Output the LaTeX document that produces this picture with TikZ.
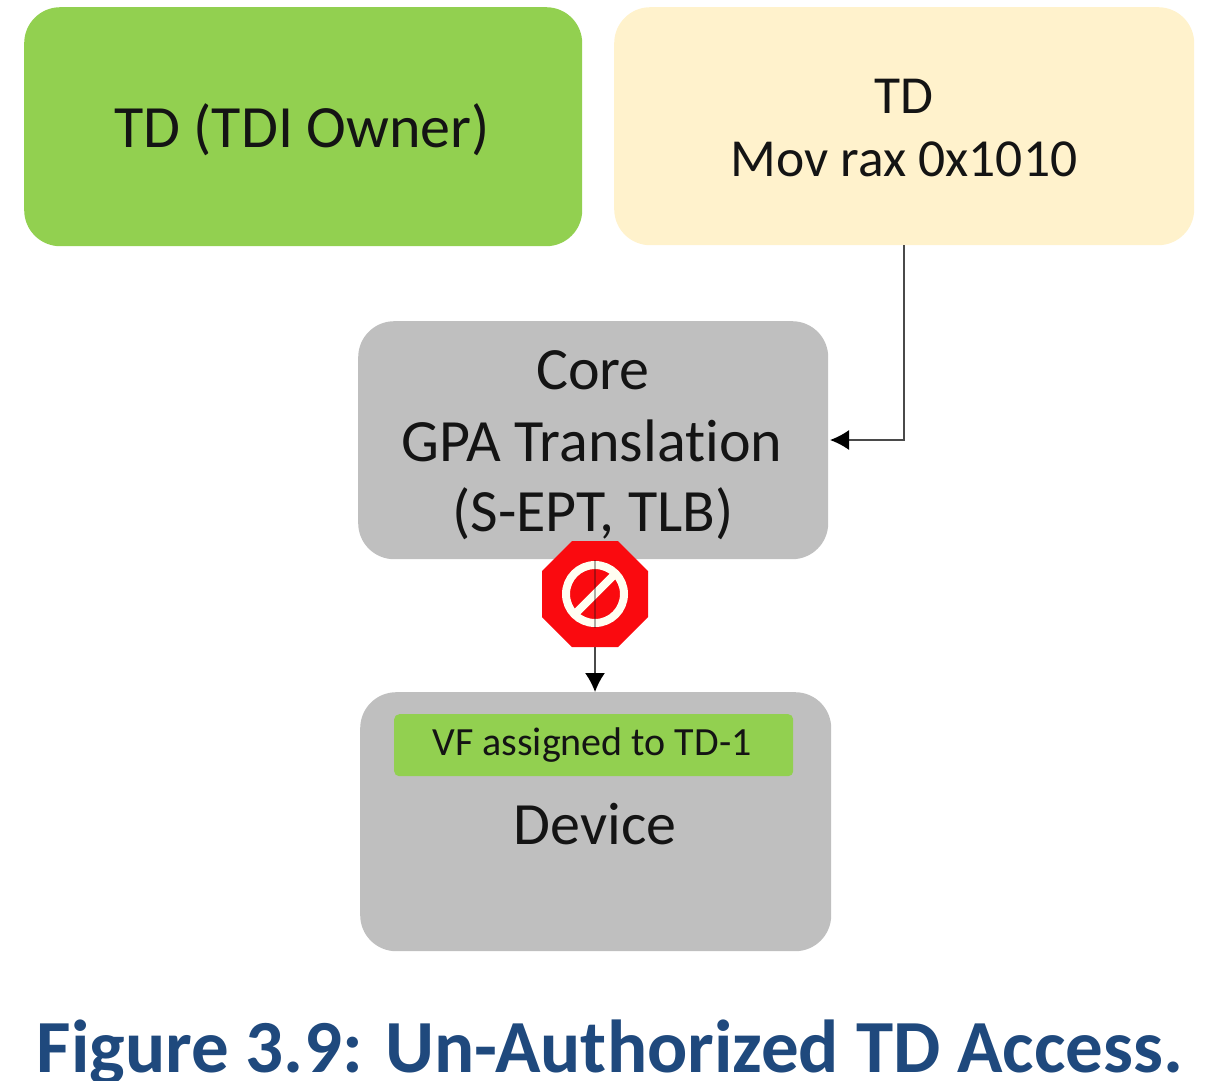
\documentclass[tikz,border=0pt]{standalone}
\usepackage{fontspec}
\setmainfont{Carlito}[RawFeature={-liga}]
\usetikzlibrary{arrows.meta,calc}
\definecolor{grn}{HTML}{92D050}
\definecolor{cream}{HTML}{FFF2CC}
\definecolor{gry}{HTML}{BFBFBF}
\definecolor{ttl}{HTML}{1F497D}
\definecolor{stopred}{HTML}{FA0A0F}
\definecolor{ink}{HTML}{141414}
\definecolor{wire}{HTML}{4A4A4A}
\tikzset{
  px/.style={x=1pt,y=-1pt},
  box/.style={draw=none,rounded corners=36pt,text=ink,align=center,inner sep=0pt,anchor=north west},
  lbl/.style={text=ink,inner sep=0pt,anchor=center},
  conn/.style={draw=wire,line width=1.6pt,-{Latex[length=19pt,width=20pt,color=black]}},
  big/.style={font=\fontsize{60}{64}\selectfont},
  mid/.style={font=\fontsize{53.5}{60}\selectfont}
}
\begin{document}
\begin{tikzpicture}[px]
\useasboundingbox (0,0) rectangle (1213,1080);
\node[box,fill=grn,minimum width=558pt,minimum height=239pt] (owner) at (24,7) {};
\node[lbl,big] (ownert) at (302,130) {TD (TDI Owner)};
\node[box,fill=cream,minimum width=580pt,minimum height=238pt] (td) at (614,7) {};
\node[lbl,mid] (tdt) at (904,96) {TD};
\node[lbl,mid] (tdm) at (904,159) {Mov rax 0x1010};
\node[box,fill=gry,minimum width=470pt,minimum height=238pt] (core) at (358,321) {};
\node[lbl,big] (c1) at (593,370) {Core};
\node[lbl,big] (c2) at (592,441) {GPA Translation};
\node[lbl,big] (c3) at (593,514) {(S-EPT, TLB)};
\node[box,fill=gry,minimum width=471pt,minimum height=259pt] (dev) at (360,692) {};
\node[box,fill=grn,rounded corners=5pt,minimum width=399pt,minimum height=62pt] (vf) at (394,714) {};
\node[lbl,font=\fontsize{40}{44}\selectfont] (vft) at (592,745) {VF assigned to TD-1};
\node[lbl,big] (devt) at (595,824) {Device};
\coordinate (bend) at (904,440);
\coordinate (coreE) at (830,440);
\draw[conn] (td.south -| bend) -- (bend) -- (coreE);
\coordinate (arrs) at (595,560);
\draw[conn] (arrs) -- (dev.north -| arrs);
% stop sign
\coordinate (s) at (595,594);
\fill[stopred] ($(s)+(-23,-53)$) -- ($(s)+(23,-53)$) -- ($(s)+(53,-23)$) -- ($(s)+(53,23)$) -- ($(s)+(23,53)$) -- ($(s)+(-23,53)$) -- ($(s)+(-53,23)$) -- ($(s)+(-53,-23)$) -- cycle;
\draw[white!95!yellow,line width=8pt] (s) circle (29pt);
\draw[white!95!yellow,line width=8pt] ($(s)+(-20,20)$) -- ($(s)+(20,-20)$);
\draw[ink,opacity=.35,line width=1.5pt] (arrs) -- ($(s)+(0,34)$);
\node[lbl,font=\fontsize{75}{80}\bfseries\selectfont,text=ttl] (cap) at (610,1053) {Figure 3.9: Un-Authorized TD Access.};
\end{tikzpicture}
\end{document}
